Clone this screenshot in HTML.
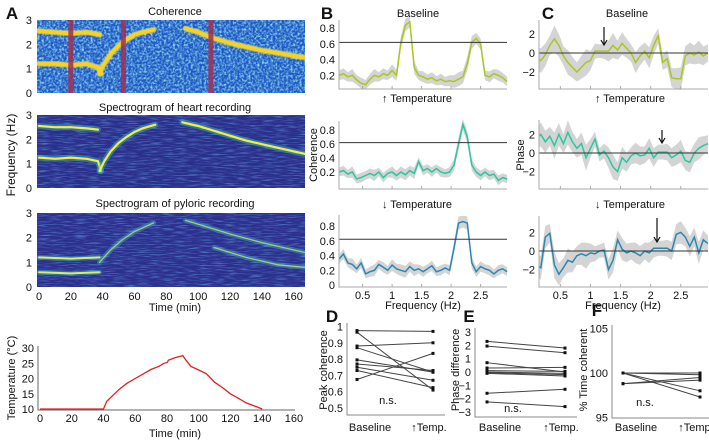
<!DOCTYPE html>
<html><head><meta charset="utf-8">
<style>
html,body{margin:0;padding:0;background:#fff;}
svg{display:block;font-family:"Liberation Sans",sans-serif;}
text{fill:#111;}
</style></head>
<body>
<svg id="fig" width="709" height="442" viewBox="0 0 709 442">
<defs>
<filter id="speck" x="0" y="0" width="100%" height="100%">
<feTurbulence type="fractalNoise" baseFrequency="0.45" numOctaves="2" seed="4"/>
<feColorMatrix type="matrix" values="0 0 0 0 0.3  0 0 0 0 0.8  0 0 0 0 0.85  2.2 0 0 0 -0.85"/>
</filter>
<filter id="speck2" x="0" y="0" width="100%" height="100%">
<feTurbulence type="fractalNoise" baseFrequency="0.08 0.9" numOctaves="2" seed="7"/>
<feColorMatrix type="matrix" values="0 0 0 0 0.15  0 0 0 0 0.45  0 0 0 0 0.8  1.6 0 0 0 -0.75"/>
</filter>
<clipPath id="clipA1"><rect x="37" y="20" width="268" height="73"/></clipPath>
<clipPath id="clipA2"><rect x="37" y="115" width="268" height="73"/></clipPath>
<clipPath id="clipA3"><rect x="37" y="213" width="268" height="74"/></clipPath>
<clipPath id="clipC"><rect x="539" y="0" width="170" height="442"/></clipPath>
</defs>
</svg>
<script>
// ---------- DATA ----------
const freqs = [0.1,0.175,0.25,0.325,0.4,0.475,0.55,0.625,0.7,0.775,0.85,0.925,1.0,1.075,1.15,1.225,1.3,1.375,1.45,1.525,1.6,1.675,1.75,1.825,1.9,1.975,2.05,2.125,2.2,2.275,2.35,2.425,2.5,2.575,2.65,2.725,2.8,2.875,2.95];
const cohBaseline = [0.2,0.22,0.18,0.2,0.14,0.1,0.08,0.15,0.2,0.18,0.22,0.2,0.26,0.2,0.62,0.84,0.88,0.3,0.2,0.18,0.15,0.17,0.13,0.15,0.12,0.13,0.12,0.15,0.18,0.35,0.62,0.67,0.6,0.2,0.18,0.22,0.2,0.17,0.12];
const cohUp = [0.2,0.22,0.17,0.2,0.1,0.12,0.15,0.18,0.15,0.2,0.12,0.18,0.2,0.15,0.2,0.16,0.22,0.18,0.35,0.22,0.25,0.2,0.25,0.2,0.18,0.2,0.3,0.6,0.88,0.7,0.3,0.2,0.15,0.2,0.15,0.17,0.08,0.12,0.1];
const cohDown = [0.35,0.42,0.3,0.28,0.22,0.3,0.15,0.18,0.2,0.28,0.24,0.2,0.27,0.22,0.2,0.18,0.25,0.2,0.22,0.18,0.22,0.26,0.18,0.2,0.23,0.2,0.5,0.84,0.86,0.84,0.3,0.18,0.25,0.22,0.2,0.15,0.2,0.22,0.18];
const bandB = [0.06,0.07,0.06,0.08,0.06,0.07,0.06,0.07,0.08,0.06,0.07,0.06,0.08,0.07,0.08,0.08,0.07,0.08,0.06,0.07,0.06,0.07,0.06,0.07,0.06,0.07,0.08,0.09,0.08,0.09,0.08,0.07,0.07,0.06,0.07,0.06,0.07,0.06,0.06];
const phaseBaseline = [-0.5,-0.8,-0.2,0.8,1.5,0.8,-0.3,-1.0,-1.5,-2.0,-1.5,-1.0,-0.8,0.2,0.2,0.2,0.2,0.8,0.3,1.0,0.5,0.0,-1.0,-0.3,0.2,-0.5,0.8,1.8,-1.0,-0.6,-2.6,-2.7,-2.7,-0.3,0.0,-0.2,0.1,-0.3,0.0];
const phaseUp = [1.5,2.0,1.2,1.8,0.8,2.0,1.0,2.2,1.2,0.5,1.0,-0.5,0.5,1.5,-0.2,0.2,-0.5,-1.5,-2.0,-0.5,-1.0,-0.3,0.0,-0.3,-0.2,0.5,-0.5,0.1,0.1,0.1,-0.5,-0.2,0.2,-0.8,-1.0,0.0,0.5,0.8,1.0];
const phaseDown = [-1.5,-1.8,1.5,1.9,-1.5,-2.5,-1.8,-1.0,-1.2,-0.5,-0.3,-0.5,-0.2,-0.3,0.0,0.1,-2.0,-1.0,1.2,0.2,-0.2,0.0,-0.2,-0.5,0.0,-0.2,0.3,0.3,0.3,0.3,0.0,1.8,2.0,1.5,0.5,1.5,-0.2,1.2,0.8];
const bandC = [1.0,1.3,1.2,1.0,1.4,1.2,1.0,1.3,1.1,1.0,1.2,1.4,1.0,0.8,0.7,0.8,1.1,1.3,1.0,1.2,1.0,0.9,1.1,1.0,0.9,1.1,1.0,0.8,0.8,0.9,1.0,1.1,1.2,1.0,1.1,1.0,1.2,1.0,0.9];
const tempTime = [0,40,42,45,50,55,60,65,70,75,78,80,81,85,90,92,95,100,105,110,115,120,125,130,135,140];
const tempVal = [10,10,12.5,14,16.5,18.5,20,21.5,23,24,25,25.2,26,26.8,27.5,26,24,22.8,21.5,18.8,17,15,13.5,12,11,10];
const peakBase = [0.975,0.965,0.88,0.87,0.795,0.77,0.75,0.73,0.675];
const peakTemp = [0.97,0.61,0.90,0.72,0.72,0.73,0.67,0.625,0.835];
const phaseDiffBase = [2.3,1.95,0.7,0.3,0.1,0.0,-0.05,-0.1,-1.6,-2.25];
const phaseDiffTemp = [1.8,1.45,0.0,0.35,0.05,-0.1,-0.2,-0.3,-1.3,-2.6];
const timeCohBase = [100,100,100,98.8,98.8,100];
const timeCohTemp = [100,98,97.3,99.5,99.2,99.8];
const cohRidges = [[[0,2.55],[10,2.5],[20,2.45],[30,2.5],[38,2.4]],[[0,1.2],[10,1.2],[20,1.15],[30,1.2],[37,1.05],[39,0.8]],[[38,0.8],[40,1.1],[45,1.6],[50,1.95],[55,2.2],[60,2.4],[65,2.5],[72,2.6]],[[92,2.65],[100,2.5],[110,2.25],[120,2.05],[130,1.9],[140,1.75],[150,1.65],[167,1.45]]];
const heartRidges = [[[0,2.55],[10,2.5],[20,2.5],[30,2.45],[37,2.4]],[[0,1.25],[10,1.2],[20,1.25],[30,1.2],[37,1.1],[39,0.7]],[[38,0.7],[41,1.1],[45,1.5],[50,1.85],[55,2.1],[60,2.3],[65,2.45],[73,2.6]],[[90,2.7],[100,2.55],[110,2.35],[120,2.15],[130,1.95],[140,1.8],[150,1.65],[167,1.4]]];
const pyloricRidges = [[[0,1.2],[20,1.15],[38,1.2]],[[0,0.6],[20,0.55],[38,0.6]],[[38,1.0],[45,1.5],[52,1.9],[60,2.25],[72,2.6]],[[92,2.7],[105,2.45],[120,2.15],[140,1.8],[167,1.4]],[[110,1.6],[130,1.2],[150,0.9],[167,0.8]]];

// ---------- helpers ----------
const NS='http://www.w3.org/2000/svg';
const svg=document.getElementById('fig');
function mk(tag,attrs,parent){const e=document.createElementNS(NS,tag);for(const k in attrs)e.setAttribute(k,attrs[k]);(parent||svg).appendChild(e);return e;}
function txt(x,y,s,size,anchor,extra){const t=mk('text',Object.assign({x:x,y:y,'font-size':size||11,'text-anchor':anchor||'middle'},extra||{}));t.textContent=s;return t;}
const tX=t=>39+t*1.592;

// ---------- Panel A ----------
let t;
t=txt(12,19,'A',17,'middle',{'font-weight':'bold'});



function heatmap(top,bot,bg,filt,ridges,clip,name,style){
  const g=mk('g',{'clip-path':'url(#'+clip+')'});
  
  
  mk('rect',{x:37,y:top,width:268,height:bot-top,fill:bg},g);
  mk('rect',{x:37,y:top,width:268,height:bot-top,filter:'url(#'+filt+')'},g);
  const fy=f=>bot-f*(bot-top)/3;
  ridges.forEach((r,i)=>{
    const d=r.map((p,j)=>(j?'L':'M')+tX(p[0]).toFixed(1)+','+fy(p[1]).toFixed(1)).join('');
    const glow=mk('path',{d:d,fill:'none',stroke:style.glow,'stroke-width':style.gw,opacity:style.go,'stroke-linecap':'round'},g);
    
    
    const p=mk('path',{d:d,fill:'none',stroke:style.c,'stroke-width':(style.faint&&i>=2)?1.3:style.w,opacity:(style.faint&&i>=2)?0.7:1,'stroke-linecap':'round'},g);
    
    
  });
  return {g:g,fy:fy};
}
function heatAxes(top,bot,labelsX){
  [0,1,2,3].forEach(v=>{const yy=bot-v*(bot-top)/3;const l=txt(32,yy+4,String(v),11,'end');
    
    });
  if(labelsX){[0,20,40,60,80,100,120,140,160].forEach(v=>{const l=txt(tX(v),bot+13,String(v),11);
    
    });}
}
const h1=heatmap(20,93,'#1f56c6','speck',cohRidges,'clipA1','coherence-heatmap',{c:'#f7d21e',w:4,glow:'#f0e060',gw:6,go:0.5});
[20,53,108].forEach(m=>{const b=mk('rect',{x:tX(m)-2.5,y:20,width:5,height:73,fill:'#a03050',opacity:0.85},h1.g);
  
  });
heatAxes(20,93,false);
t=txt(175,15,'Coherence',11);



heatmap(115,188,'#2b2f8c','speck2',heartRidges,'clipA2','heart-spectrogram',{c:'#f2f03c',w:2.2,glow:'#3cc0c0',gw:6,go:0.45});
heatAxes(115,188,false);
t=txt(175,111,'Spectrogram of heart recording',11);



heatmap(213,287,'#2c2f8e','speck2',pyloricRidges,'clipA3','pyloric-spectrogram',{c:'#d8f05a',w:2,glow:'#3cb0c8',gw:5,go:0.45,faint:true});
heatAxes(213,287,true);
t=txt(175,207,'Spectrogram of pyloric recording',11);


t=txt(175,311,'Time (min)',11);


t=txt(0,0,'Frequency (Hz)',12,'middle',{transform:'translate(15,155) rotate(-90)'});



// temperature plot
const tpX=tm=>40+tm*1.587, tpY=v=>409-(v-10)*3.05;
let ax=mk('path',{d:'M38,346V410H295',fill:'none',stroke:'#666','stroke-width':1});


[10,15,20,25,30].forEach(v=>{const l=txt(34,tpY(v)+4,String(v),11,'end');
  
  });
[0,20,40,60,80,100,120,140,160].forEach(v=>{const l=txt(tpX(v),422,String(v),11);
  
  });
const tline=mk('polyline',{points:tempTime.map((tm,i)=>tpX(tm).toFixed(1)+','+tpY(tempVal[i]).toFixed(1)).join(' '),fill:'none',stroke:'#e02020','stroke-width':1.3});


t=txt(175,437,'Time (min)',11);


t=txt(0,0,'Temperature (°C)',11,'middle',{transform:'translate(15,378) rotate(-90)'});



// ---------- Panels B & C ----------
function linePanel(o){
  const x=f=>o.x0+(f-o.f0)*o.px;
  const y=v=>o.yz-v*o.py;
  const g=mk('g',o.clip?{'clip-path':'url(#'+o.clip+')'}:{});
  
  
  const up=o.vals.map((v,i)=>x(freqs[i]).toFixed(1)+','+y(v+o.band[i]*o.bs).toFixed(1));
  const dn=o.vals.map((v,i)=>x(freqs[i]).toFixed(1)+','+y(v-o.band[i]*o.bs).toFixed(1)).reverse();
  const b=mk('polygon',{points:up.concat(dn).join(' '),fill:'#d4d4d4'},g);
  
  
  const ref=mk('line',{x1:o.x0,x2:o.x1,y1:y(o.refv),y2:y(o.refv),stroke:'#333','stroke-width':1});
  
  
  const l=mk('polyline',{points:o.vals.map((v,i)=>x(freqs[i]).toFixed(1)+','+y(v).toFixed(1)).join(' '),fill:'none',stroke:o.color,'stroke-width':1.5},g);
  
  
  const a=mk('path',{d:'M'+o.x0+','+o.top+'V'+o.bot+'H'+o.x1,fill:'none',stroke:'#aaa','stroke-width':1});
  
  
  [0.5,1,1.5,2,2.5].forEach(f=>{const tk=mk('line',{x1:x(f),x2:x(f),y1:o.bot,y2:o.bot-3,stroke:'#aaa'});
    
    
    if(o.xlabels){const lb=txt(x(f),o.bot+12,String(f),11);
      
      }});
  o.yticks.forEach(v=>{const lb=txt(o.x0-4,y(v)+4,o.fmt(v),11,'end');
    
    });
}
const fmtB=v=>v===0?'0':String(v);
const fmtC=v=>v<0?'\u2212'+Math.abs(v):String(v);
linePanel({name:'coherence-baseline',x0:339,x1:507,f0:0.1,px:59,yz:91,py:78.5,top:20,bot:89,vals:cohBaseline,band:bandB,bs:1,color:'#a8c820',refv:0.62,refName:'threshold-line',yticks:[0.2,0.4,0.6,0.8],fmt:fmtB});
linePanel({name:'coherence-temp-up',x0:339,x1:507,f0:0.1,px:59,yz:186,py:70,top:121,bot:189,vals:cohUp,band:bandB,bs:1,color:'#28c8a0',refv:0.62,refName:'threshold-line',yticks:[0.2,0.4,0.6,0.8],fmt:fmtB});
linePanel({name:'coherence-temp-down',x0:339,x1:507,f0:0.1,px:59,yz:285,py:73.75,top:215,bot:287,vals:cohDown,band:bandB,bs:1,color:'#2a88b0',refv:0.62,refName:'threshold-line',yticks:[0,0.2,0.4,0.6,0.8],fmt:fmtB,xlabels:true});
linePanel({name:'phase-baseline',clip:'clipC',x0:539,x1:708,f0:0.145,px:60.2,yz:53,py:9.5,top:20,bot:89,vals:phaseBaseline,band:bandC,bs:1,color:'#a8c820',refv:0,refName:'zero-line',yticks:[-2,0,2],fmt:fmtC});
linePanel({name:'phase-temp-up',clip:'clipC',x0:539,x1:708,f0:0.145,px:60.2,yz:153,py:9.3,top:120,bot:189,vals:phaseUp,band:bandC,bs:1,color:'#28c8a0',refv:0,refName:'zero-line',yticks:[-2,0,2],fmt:fmtC});
linePanel({name:'phase-temp-down',clip:'clipC',x0:539,x1:708,f0:0.145,px:60.2,yz:251,py:9.3,top:216,bot:287,vals:phaseDown,band:bandC,bs:1,color:'#2a88b0',refv:0,refName:'zero-line',yticks:[-2,0,2],fmt:fmtC,xlabels:true});

const labels=[['B',327,19,17,'panel-label-b',true],['C',548,19,17,'panel-label-c',true],
 ['Baseline',418,17,11,'baseline-title-b'],['Baseline',627,17,11,'baseline-title-c'],
 ['\u2191 Temperature',417,102,11,'temp-up-title-b'],['\u2191 Temperature',630,102,11,'temp-up-title-c'],
 ['\u2193 Temperature',417,208,11,'temp-down-title-b'],['\u2193 Temperature',630,208,11,'temp-down-title-c'],
 ['Frequency (Hz)',423,309,11,'x-axis-title-b'],['Frequency (Hz)',623,309,11,'x-axis-title-c']];
labels.forEach(L=>{const e=txt(L[1],L[2],L[0],L[3],'middle',L[5]?{'font-weight':'bold'}:{});
  
  });
t=txt(0,0,'Coherence',11,'middle',{transform:'translate(317,155) rotate(-90)'});


t=txt(0,0,'Phase',11,'middle',{transform:'translate(524,155) rotate(-90)'});


[[604,27,45],[662,130,143],[657,218,242]].forEach(a=>{
  const ar=mk('path',{d:'M'+a[0]+','+a[1]+'V'+a[2]+'M'+(a[0]-3)+','+(a[2]-5)+'L'+a[0]+','+a[2]+'L'+(a[0]+3)+','+(a[2]-5),fill:'none',stroke:'#111','stroke-width':1.2});
  
  });

// ---------- Panels D, E, F ----------
function pairPanel(o){
  const y=v=>o.yz-(v-o.vref)*o.py;
  const a=mk('path',{d:'M'+o.ax+','+o.top+'V'+o.bot+'H'+(o.bx2+12),fill:'none',stroke:'#888','stroke-width':1});
  
  
  o.base.forEach((v,i)=>{
    const ln=mk('line',{x1:o.bx1,y1:y(v),x2:o.bx2,y2:y(o.temp[i]),stroke:'#444','stroke-width':1});
    
    
    const p1=mk('rect',{x:o.bx1-1.5,y:y(v)-1.5,width:3,height:3,fill:'#111'});
    
    
    const p2=mk('rect',{x:o.bx2-1.5,y:y(o.temp[i])-1.5,width:3,height:3,fill:'#111'});
    
    
  });
  o.ticks.forEach(v=>{const l=txt(o.ax-4,y(v)+4,o.fmt(v),11,'end');
    
    });
  let e=txt(o.bx1+13,431,'Baseline',11);
  
  
  e=txt(o.bx2-4,431,'\u2191Temp.',11);
  
  
  e=txt(o.nsx,o.nsy,'n.s.',11);
  
  
  e=txt(o.lx,o.ly,o.letter,17,'middle',{'font-weight':'bold'});
  
  
  e=txt(0,0,o.title,11,'middle',{transform:'translate('+o.tx+',370) rotate(-90)'});
  
  
}
pairPanel({letter:'D',lx:332,ly:322,ax:347,top:323,bot:415,bx1:357,bx2:433,yz:408,vref:0.5,py:163,base:peakBase,temp:peakTemp,ticks:[0.5,0.6,0.7,0.8,0.9,1],fmt:v=>String(v),nsx:388,nsy:404,title:'Peak coherence',tx:327});
pairPanel({letter:'E',lx:469,ly:322,ax:475,top:328,bot:417,bx1:487,bx2:565,yz:372,vref:0,py:13.3,base:phaseDiffBase,temp:phaseDiffTemp,ticks:[-3,-2,-1,0,1,2,3],fmt:fmtC,nsx:513,nsy:412,title:'Phase difference',tx:459});
pairPanel({letter:'F',lx:597,ly:316,ax:612,top:325,bot:418,bx1:623,bx2:700,yz:373,vref:100,py:8.9,base:timeCohBase,temp:timeCohTemp,ticks:[95,100,105],fmt:v=>String(v),nsx:645,nsy:406,title:'% Time coherent',tx:587});
</script>
</body></html>
